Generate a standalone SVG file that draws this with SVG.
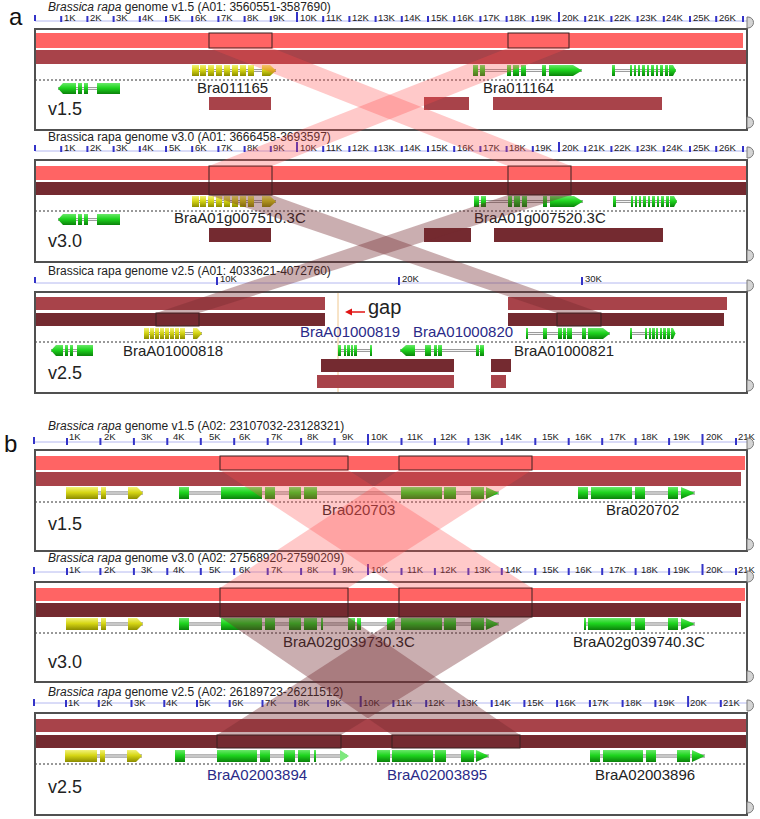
<svg xmlns="http://www.w3.org/2000/svg" xmlns:xlink="http://www.w3.org/1999/xlink" width="760" height="819" viewBox="0 0 760 819">
<style>
text{font-family:"Liberation Sans",Arial,sans-serif;fill:#222}
.ttl{font-size:12px}
.tk{font-size:9.5px}
.gl{font-size:15px}
.blue{fill:#2a2a88}
.ver{font-size:18px}
.pl{font-size:24px;fill:#111}
.box{fill:none;stroke:#505050;stroke-width:2}
.rl{stroke:#b4b8f0;stroke-width:1;fill:none}
.tks{stroke:#3434c8;stroke-width:2;fill:none}
.tab{fill:#d4d4d4;stroke:#7a7a7a;stroke-width:1}
.lt{fill:#ff6464}
.md{fill:#a8434a}
.dk{fill:#742a30}
.hl{fill:none;stroke:#3a2020;stroke-width:1}
.dash{stroke:#333;stroke-width:1;stroke-dasharray:2 2}
.in{fill:url(#gI)}
.eg rect,.eg polygon{fill:url(#gG)}
.ey rect,.ey polygon{fill:url(#gY)}
.bl{fill:#ff4c4c;opacity:0.3}
.bd{fill:#742a30;opacity:0.38}
</style>
<defs>
<linearGradient id="gG" x1="0" y1="0" x2="0" y2="1"><stop offset="0" stop-color="#6ae86a"/><stop offset="0.45" stop-color="#1ed41e"/><stop offset="1" stop-color="#0b820b"/></linearGradient>
<linearGradient id="gY" x1="0" y1="0" x2="0" y2="1"><stop offset="0" stop-color="#f2f27a"/><stop offset="0.45" stop-color="#d6d614"/><stop offset="1" stop-color="#8c8c00"/></linearGradient>
<linearGradient id="gI" x1="0" y1="0" x2="0" y2="1"><stop offset="0" stop-color="#707070"/><stop offset="0.5" stop-color="#f4f4f4"/><stop offset="1" stop-color="#707070"/></linearGradient>
<g id="aL"><rect class="in" x="58" y="4" width="62" height="3"/><g class="eg"><polygon points="58,5.5 63,0 76,0 76,11 63,11"/><rect x="78" y="0" width="4" height="11"/><rect x="84" y="0" width="4" height="11"/><rect x="97" y="0" width="23" height="11"/></g></g>
<g id="aY"><rect class="in" x="192" y="4" width="84" height="3"/><g class="ey"><rect x="192" y="0" width="7" height="11"/><rect x="200" y="0" width="6" height="11"/><rect x="208" y="0" width="6" height="11"/><rect x="216" y="0" width="6" height="11"/><rect x="224" y="0" width="6" height="11"/><rect x="232" y="0" width="6" height="11"/><rect x="240" y="0" width="6" height="11"/><rect x="248" y="0" width="6" height="11"/><polygon points="262,0 270,0 276,5.5 270,11 262,11"/></g></g>
<g id="aG1"><rect class="in" x="473" y="4" width="109" height="3"/><g class="eg"><rect x="473" y="0" width="5" height="11"/><rect x="480" y="0" width="5" height="11"/><rect x="507" y="0" width="4" height="11"/><rect x="513" y="0" width="6" height="11"/><rect x="521" y="0" width="5" height="11"/><rect x="542" y="0" width="4" height="11"/><polygon points="549,0 573,0 582,5.5 573,11 549,11"/></g></g>
<g id="aG2"><rect class="in" x="612" y="4" width="64" height="3"/><g class="eg"><rect x="612" y="0" width="3" height="11"/><rect x="630" y="0" width="2" height="11"/><rect x="634" y="0" width="2" height="11"/><rect x="638" y="0" width="2" height="11"/><rect x="642" y="0" width="3" height="11"/><rect x="647" y="0" width="2" height="11"/><rect x="651" y="0" width="3" height="11"/><rect x="656" y="0" width="2" height="11"/><rect x="660" y="0" width="3" height="11"/><rect x="665" y="0" width="3" height="11"/><polygon points="669,0 673,0 676,5.5 673,11 669,11"/></g></g>
<g id="bY"><rect class="in" x="66" y="4.5" width="77" height="3"/><g class="ey"><rect x="66" y="0" width="32" height="12"/><rect x="101" y="0" width="5" height="12"/><polygon points="128,0 137,0 143,6 137,12 128,12"/></g></g>
<g id="bG702"><rect class="in" x="578" y="4.5" width="117" height="3"/><g class="eg"><rect x="578" y="0" width="10" height="12"/><rect x="591" y="0" width="41" height="12"/><rect x="635" y="0" width="10" height="12"/><rect x="668" y="0" width="10" height="12"/><polygon points="681,0 695,6 681,12"/></g></g>
</defs>
<rect x="0" y="0" width="760" height="819" fill="#fff"/>

<text class="pl" x="9" y="25">a</text>
<text class="pl" x="4" y="452">b</text>

<g id="a-v1.5">
<text class="ttl" x="48" y="11"><tspan font-style="italic">Brassica rapa</tspan> genome v1.5 (A01: 3560551-3587690)</text>
<line class="rl" x1="35" y1="21" x2="747" y2="21"/>
<path class="tks" d="M35,15v6M61.2,16v6M87.4,16v6M113.6,16v6M139.8,16v6M166,16v6M192.2,16v6M218.4,16v6M244.6,16v6M270.8,16v6M297,12v10M323.2,16v6M349.4,16v6M375.6,16v6M401.8,16v6M428,16v6M454.2,16v6M480.4,16v6M506.6,16v6M532.8,16v6M559,12v10M585.2,16v6M611.4,16v6M637.6,16v6M663.8,16v6M690,16v6M716.2,16v6M743,16v6"/>
<g class="tk"><text x="64" y="21">1K</text><text x="90" y="21">2K</text><text x="116" y="21">3K</text><text x="142" y="21">4K</text><text x="169" y="21">5K</text><text x="195" y="21">6K</text><text x="221" y="21">7K</text><text x="247" y="21">8K</text><text x="273" y="21">9K</text><text x="300" y="21">10K</text><text x="326" y="21">11K</text><text x="352" y="21">12K</text><text x="378" y="21">13K</text><text x="404" y="21">14K</text><text x="431" y="21">15K</text><text x="457" y="21">16K</text><text x="483" y="21">17K</text><text x="509" y="21">18K</text><text x="535" y="21">19K</text><text x="562" y="21">20K</text><text x="588" y="21">21K</text><text x="614" y="21">22K</text><text x="640" y="21">23K</text><text x="666" y="21">24K</text><text x="693" y="21">25K</text><text x="719" y="21">26K</text></g>
<rect class="lt" x="35" y="33" width="708" height="15"/>
<rect class="md" x="35" y="50" width="712" height="14"/>
<rect class="hl" x="209" y="33" width="63" height="15"/>
<rect class="hl" x="508" y="33" width="61" height="15"/>
<use href="#aY" y="65"/><use href="#aG1" y="65"/><use href="#aG2" y="65"/><use href="#aL" y="83"/>
<line class="dash" x1="35" y1="80" x2="747" y2="80"/>
<text class="gl" x="197" y="93">Bra011165</text>
<text class="gl" x="483" y="93">Bra011164</text>
<rect class="md" x="209" y="97" width="62" height="13"/>
<rect class="md" x="424" y="97" width="45" height="13"/>
<rect class="md" x="493" y="97" width="169" height="13"/>
<text class="ver" x="48" y="115">v1.5</text>
<rect class="box" x="35" y="29" width="712" height="101"/>
<path class="tab" d="M747,17h1a5.5,5.5 0 0 1 0,11h-1z"/><path class="tab" d="M747,117h1a5.5,5.5 0 0 1 0,11h-1z"/>
</g>

<g id="a-v3.0">
<text class="ttl" x="48" y="141">Brassica rapa genome v3.0 (A01: 3666458-3693597)</text>
<line class="rl" x1="35" y1="151" x2="747" y2="151"/>
<path class="tks" d="M35,145v6M61.2,146v6M87.4,146v6M113.6,146v6M139.8,146v6M166,146v6M192.2,146v6M218.4,146v6M244.6,146v6M270.8,146v6M297,142v10M323.2,146v6M349.4,146v6M375.6,146v6M401.8,146v6M428,146v6M454.2,146v6M480.4,146v6M506.6,146v6M532.8,146v6M559,142v10M585.2,146v6M611.4,146v6M637.6,146v6M663.8,146v6M690,146v6M716.2,146v6M743,146v6"/>
<g class="tk"><text x="64" y="151">1K</text><text x="90" y="151">2K</text><text x="116" y="151">3K</text><text x="142" y="151">4K</text><text x="169" y="151">5K</text><text x="195" y="151">6K</text><text x="221" y="151">7K</text><text x="247" y="151">8K</text><text x="273" y="151">9K</text><text x="300" y="151">10K</text><text x="326" y="151">11K</text><text x="352" y="151">12K</text><text x="378" y="151">13K</text><text x="404" y="151">14K</text><text x="431" y="151">15K</text><text x="457" y="151">16K</text><text x="483" y="151">17K</text><text x="509" y="151">18K</text><text x="535" y="151">19K</text><text x="562" y="151">20K</text><text x="588" y="151">21K</text><text x="614" y="151">22K</text><text x="640" y="151">23K</text><text x="666" y="151">24K</text><text x="693" y="151">25K</text><text x="719" y="151">26K</text></g>
<rect class="lt" x="35" y="166" width="712" height="14"/>
<rect class="dk" x="35" y="182" width="712" height="13"/>
<rect class="hl" x="209" y="166" width="63" height="29"/>
<rect class="hl" x="508" y="166" width="63" height="29"/>
<use href="#aY" y="196"/><use href="#aG1" x="1" y="196"/><use href="#aG2" x="1" y="196"/><use href="#aL" y="214"/>
<line class="dash" x1="35" y1="211" x2="747" y2="211"/>
<text class="gl" x="174" y="223">BraA01g007510.3C</text>
<text class="gl" x="474" y="223">BraA01g007520.3C</text>
<rect class="dk" x="209" y="228" width="62" height="14"/>
<rect class="dk" x="424" y="228" width="47" height="14"/>
<rect class="dk" x="494" y="228" width="169" height="14"/>
<text class="ver" x="48" y="247">v3.0</text>
<rect class="box" x="35" y="160" width="712" height="102"/>
<path class="tab" d="M747,147h1a5.5,5.5 0 0 1 0,11h-1z"/><path class="tab" d="M747,250h1a5.5,5.5 0 0 1 0,11h-1z"/>
</g>

<g id="a-v2.5">
<text class="ttl" x="48" y="275">Brassica rapa genome v2.5 (A01: 4033621-4072760)</text>
<line class="rl" x1="35" y1="283" x2="747" y2="283"/>
<path class="tks" d="M35,277v6M217,277v8M399,277v8M582,277v8"/>
<g class="tk"><text x="220" y="282">10K</text><text x="402" y="282">20K</text><text x="585" y="282">30K</text></g>
<rect class="md" x="35" y="297" width="290" height="13"/>
<rect class="dk" x="35" y="313" width="290" height="13"/>
<rect class="hl" x="156" y="313" width="43" height="13"/>
<rect class="md" x="508" y="297" width="219" height="13"/>
<rect class="dk" x="508" y="313" width="216" height="13"/>
<rect class="hl" x="557" y="313" width="44" height="13"/>
<line x1="338" y1="292" x2="338" y2="393" stroke="#f0c890" stroke-width="1"/>
<line x1="350" y1="312" x2="365" y2="312" stroke="#e01414" stroke-width="1.5"/>
<polygon points="345,312 352,308.5 352,315.5" fill="#e01414"/>
<text x="368" y="314" font-size="20">gap</text>
<text class="gl blue" x="300" y="337">BraA01000819</text>
<text class="gl blue" x="413" y="337">BraA01000820</text>
<line class="dash" x1="35" y1="342" x2="747" y2="342" stroke-width="1.3"/>
<g transform="translate(0,328)">
<rect class="in" x="144" y="4" width="58" height="3"/><g class="ey"><rect x="144" y="0" width="5" height="11"/><rect x="150" y="0" width="4" height="11"/><rect x="155" y="0" width="4" height="11"/><rect x="160" y="0" width="4" height="11"/><rect x="165" y="0" width="4" height="11"/><rect x="170" y="0" width="4" height="11"/><rect x="175" y="0" width="4" height="11"/><rect x="180" y="0" width="5" height="11"/><polygon points="193,0 197,0 202,5.5 197,11 193,11"/></g>
<rect class="in" x="526" y="4" width="84" height="3"/><g class="eg"><rect x="526" y="0" width="2" height="11"/><rect x="543" y="0" width="4" height="11"/><rect x="558" y="0" width="4" height="11"/><rect x="563" y="0" width="3" height="11"/><rect x="567" y="0" width="5" height="11"/><rect x="582" y="0" width="4" height="11"/><polygon points="588,0 603,0 610,5.5 603,11 588,11"/></g>
<rect class="in" x="630" y="4" width="45" height="3"/><g class="eg"><rect x="630" y="0" width="2" height="11"/><rect x="645" y="0" width="2" height="11"/><rect x="649" y="0" width="2" height="11"/><rect x="652" y="0" width="3" height="11"/><rect x="656" y="0" width="2" height="11"/><rect x="660" y="0" width="2" height="11"/><rect x="663" y="0" width="3" height="11"/><rect x="667" y="0" width="3" height="11"/><polygon points="671,0 673,0 675.5,5.5 673,11 671,11"/></g>
</g>
<g transform="translate(0,345)">
<rect class="in" x="51" y="4" width="42" height="3"/><g class="eg"><polygon points="51,5.5 56,0 63,0 63,11 56,11"/><rect x="65" y="0" width="3" height="11"/><rect x="70" y="0" width="3" height="11"/><rect x="77" y="0" width="16" height="11"/></g>
<rect class="in" x="338" y="4" width="34" height="3"/><g class="eg"><rect x="338" y="0" width="3" height="11"/><rect x="344" y="0" width="2" height="11"/><rect x="347" y="0" width="3" height="11"/><rect x="351" y="0" width="2" height="11"/><rect x="354" y="0" width="3" height="11"/><rect x="370" y="0" width="2" height="11"/></g>
<rect class="in" x="400" y="4" width="84" height="3"/><g class="eg"><polygon points="400,5.5 406,0 415,0 415,11 406,11"/><rect x="425" y="0" width="6" height="11"/><rect x="434" y="0" width="3" height="11"/><rect x="438" y="0" width="4" height="11"/><rect x="476" y="0" width="3" height="11"/><rect x="480" y="0" width="4" height="11"/></g>
</g>
<text class="gl" x="123" y="356">BraA01000818</text>
<text class="gl" x="514" y="356">BraA01000821</text>
<rect class="dk" x="321" y="359" width="133" height="13"/>
<rect class="dk" x="491" y="359" width="20" height="13"/>
<rect class="md" x="317" y="375" width="137" height="13"/>
<rect class="md" x="491" y="375" width="15" height="13"/>
<text class="ver" x="48" y="379">v2.5</text>
<rect class="box" x="35" y="292" width="712" height="101"/>
<path class="tab" d="M747,280h1a5.5,5.5 0 0 1 0,11h-1z"/><path class="tab" d="M747,380h1a5.5,5.5 0 0 1 0,11h-1z"/>
</g>

<g id="b-v1.5">
<text class="ttl" x="48" y="430"><tspan font-style="italic">Brassica rapa</tspan> genome v1.5 (A02: 23107032-23128321)</text>
<line class="rl" x1="35" y1="442" x2="747" y2="442"/>
<path class="tks" d="M34,437v7M67,438v7M100.4,438v7M133.9,438v7M167.3,438v7M200.8,438v7M234.2,438v7M267.7,438v7M301.1,438v7M334.6,438v7M368,434v11M401.5,438v7M434.9,438v7M468.4,438v7M501.8,438v7M535.3,438v7M568.7,438v7M602.2,438v7M635.6,438v7M669.1,438v7M702.5,434v11M736,438v7"/>
<g class="tk"><text x="69" y="440">1K</text><text x="104" y="440">2K</text><text x="141" y="440">3K</text><text x="173" y="440">4K</text><text x="209" y="440">5K</text><text x="239" y="440">6K</text><text x="271" y="440">7K</text><text x="307" y="440">8K</text><text x="342" y="440">9K</text><text x="371" y="440">10K</text><text x="407" y="440">11K</text><text x="440" y="440">12K</text><text x="474" y="440">13K</text><text x="505" y="440">14K</text><text x="542" y="440">15K</text><text x="575" y="440">16K</text><text x="609" y="440">17K</text><text x="641" y="440">18K</text><text x="673" y="440">19K</text><text x="706" y="440">20K</text><text x="738" y="440">21K</text></g>
<rect class="lt" x="35" y="456" width="710" height="14"/>
<rect class="md" x="35" y="472" width="706" height="14"/>
<rect class="hl" x="220" y="456" width="128" height="14"/>
<rect class="hl" x="399" y="456" width="133" height="14"/>
<use href="#bY" y="487"/><use href="#bG702" y="487"/>
<g transform="translate(0,487)"><rect class="in" x="179" y="4.5" width="320" height="3"/><g class="eg"><rect x="179" y="0" width="10" height="12"/><rect x="221" y="0" width="41" height="12"/><rect x="265" y="0" width="10" height="12"/><rect x="289" y="0" width="12" height="12"/><rect x="304" y="0" width="13" height="12"/><rect x="401" y="0" width="41" height="12"/><rect x="444" y="0" width="12" height="12"/><rect x="471" y="0" width="13" height="12"/><polygon points="486,0 499,6 486,12"/></g></g>
<line class="dash" x1="35" y1="502" x2="747" y2="502"/>
<text class="gl" x="322" y="515">Bra020703</text>
<text class="gl" x="606" y="515">Bra020702</text>
<text class="ver" x="48" y="530">v1.5</text>
<rect class="box" x="35" y="450" width="712" height="101"/>
<path class="tab" d="M747,438h1a5.5,5.5 0 0 1 0,11h-1z"/><path class="tab" d="M747,539h1a5.5,5.5 0 0 1 0,11h-1z"/>
</g>

<g id="b-v3.0">
<text class="ttl" x="48" y="562"><tspan font-style="italic">Brassica rapa</tspan> genome v3.0 (A02: 27568920-27590209)</text>
<line class="rl" x1="35" y1="572" x2="747" y2="572"/>
<path class="tks" d="M34,567v7M67,568v7M100.4,568v7M133.9,568v7M167.3,568v7M200.8,568v7M234.2,568v7M267.7,568v7M301.1,568v7M334.6,568v7M368,564v11M401.5,568v7M434.9,568v7M468.4,568v7M501.8,568v7M535.3,568v7M568.7,568v7M602.2,568v7M635.6,568v7M669.1,568v7M702.5,564v11M736,568v7"/>
<g class="tk"><text x="69" y="573">1K</text><text x="104" y="573">2K</text><text x="141" y="573">3K</text><text x="173" y="573">4K</text><text x="209" y="573">5K</text><text x="239" y="573">6K</text><text x="271" y="573">7K</text><text x="307" y="573">8K</text><text x="342" y="573">9K</text><text x="371" y="573">10K</text><text x="407" y="573">11K</text><text x="440" y="573">12K</text><text x="474" y="573">13K</text><text x="505" y="573">14K</text><text x="542" y="573">15K</text><text x="575" y="573">16K</text><text x="609" y="573">17K</text><text x="641" y="573">18K</text><text x="673" y="573">19K</text><text x="706" y="573">20K</text><text x="738" y="573">21K</text></g>
<rect class="lt" x="35" y="588" width="710" height="13"/>
<rect class="dk" x="35" y="603" width="706" height="14"/>
<rect class="hl" x="220" y="588" width="128" height="29"/>
<rect class="hl" x="399" y="588" width="133" height="29"/>
<use href="#bY" y="618"/>
<g transform="translate(0,618)"><rect class="in" x="179" y="4.5" width="320" height="3"/><g class="eg"><rect x="179" y="0" width="10" height="12"/><rect x="221" y="0" width="41" height="12"/><rect x="265" y="0" width="10" height="12"/><rect x="289" y="0" width="12" height="12"/><rect x="304" y="0" width="13" height="12"/><rect x="321" y="0" width="2" height="12"/><rect x="348" y="0" width="7" height="12"/><rect x="357" y="0" width="4" height="12"/><rect x="387" y="0" width="8" height="12"/><rect x="401" y="0" width="41" height="12"/><rect x="444" y="0" width="12" height="12"/><rect x="471" y="0" width="13" height="12"/><polygon points="486,0 499,6 486,12"/></g>
<rect class="in" x="584" y="4.5" width="111" height="3"/><g class="eg"><rect x="584" y="0" width="2" height="12"/><rect x="588" y="0" width="43" height="12"/><rect x="635" y="0" width="10" height="12"/><rect x="668" y="0" width="10" height="12"/><polygon points="681,0 695,6 681,12"/></g></g>
<line class="dash" x1="35" y1="633" x2="747" y2="633"/>
<text class="gl" x="283" y="647">BraA02g039730.3C</text>
<text class="gl" x="573" y="647">BraA02g039740.3C</text>
<text class="ver" x="48" y="668">v3.0</text>
<rect class="box" x="35" y="582" width="712" height="100"/>
<path class="tab" d="M747,571h1a5.5,5.5 0 0 1 0,11h-1z"/><path class="tab" d="M747,671h1a5.5,5.5 0 0 1 0,11h-1z"/>
</g>

<g id="b-v2.5">
<text class="ttl" x="48" y="696"><tspan font-style="italic">Brassica rapa</tspan> genome v2.5 (A02: 26189723-26211512)</text>
<line class="rl" x1="35" y1="703" x2="747" y2="703"/>
<path class="tks" d="M34,699v7M66,700v7M98.8,700v7M131.5,700v7M164.3,700v7M197,700v7M229.7,700v7M262.5,700v7M295.2,700v7M328,700v7M360.7,696v11M393.4,700v7M426.2,700v7M458.9,700v7M491.7,700v7M524.4,700v7M557.1,700v7M589.9,700v7M622.6,700v7M655.4,700v7M688.1,696v11M720.8,700v7"/>
<g class="tk"><text x="68" y="706">1K</text><text x="101" y="706">2K</text><text x="134" y="706">3K</text><text x="166" y="706">4K</text><text x="199" y="706">5K</text><text x="232" y="706">6K</text><text x="265" y="706">7K</text><text x="298" y="706">8K</text><text x="330" y="706">9K</text><text x="363" y="706">10K</text><text x="396" y="706">11K</text><text x="428" y="706">12K</text><text x="461" y="706">13K</text><text x="494" y="706">14K</text><text x="527" y="706">15K</text><text x="559" y="706">16K</text><text x="592" y="706">17K</text><text x="625" y="706">18K</text><text x="658" y="706">19K</text><text x="690" y="706">20K</text><text x="723" y="706">21K</text></g>
<rect class="md" x="35" y="719" width="712" height="13"/>
<rect class="dk" x="35" y="735" width="712" height="13"/>
<rect class="hl" x="217" y="735" width="124" height="13"/>
<rect class="hl" x="392" y="735" width="128" height="13"/>
<use href="#bY" x="-1" y="750"/>
<g transform="translate(0,750)">
<rect class="in" x="175" y="4.5" width="172" height="3"/><g class="eg"><rect x="175" y="0" width="10" height="12"/><rect x="217" y="0" width="40" height="12"/><rect x="260" y="0" width="10" height="12"/><rect x="284" y="0" width="11" height="12"/><rect x="298" y="0" width="12" height="12"/><rect x="314" y="0" width="2" height="12"/></g><polygon points="340,0 349,6 340,12" fill="#7ee87e"/>
<rect class="in" x="377" y="4.5" width="112" height="3"/><g class="eg"><rect x="377" y="0" width="13" height="12"/><rect x="392" y="0" width="41" height="12"/><rect x="435" y="0" width="11" height="12"/><rect x="461" y="0" width="13" height="12"/><polygon points="476,0 489,6 476,12"/></g>
<rect class="in" x="590" y="4.5" width="115" height="3"/><g class="eg"><rect x="590" y="0" width="10" height="12"/><rect x="603" y="0" width="40" height="12"/><rect x="646" y="0" width="10" height="12"/><rect x="677" y="0" width="13" height="12"/><polygon points="692,0 705,6 692,12"/></g>
</g>
<line class="dash" x1="35" y1="764" x2="747" y2="764" stroke-width="1.3"/>
<text class="gl blue" x="207" y="780">BraA02003894</text>
<text class="gl blue" x="387" y="780">BraA02003895</text>
<text class="gl" x="595" y="780">BraA02003896</text>
<text class="ver" x="48" y="793">v2.5</text>
<rect class="box" x="35" y="713" width="712" height="102"/>
<path class="tab" d="M747,700h1a5.5,5.5 0 0 1 0,11h-1z"/><path class="tab" d="M747,802h1a5.5,5.5 0 0 1 0,11h-1z"/>
</g>

<g id="connectors">
<polygon class="bl" points="209,48 272,48 571,166 508,166"/>
<polygon class="bl" points="508,48 569,48 272,166 209,166"/>
<polygon class="bd" points="209,195 272,195 601,313 557,313"/>
<polygon class="bd" points="508,195 571,195 199,313 156,313"/>
<polygon class="bl" points="220,470 348,470 532,588 399,588"/>
<polygon class="bl" points="399,470 532,470 348,588 220,588"/>
<polygon class="bd" points="220,617 348,617 520,735 392,735"/>
<polygon class="bd" points="399,617 532,617 341,735 217,735"/>
</g>
</svg>
